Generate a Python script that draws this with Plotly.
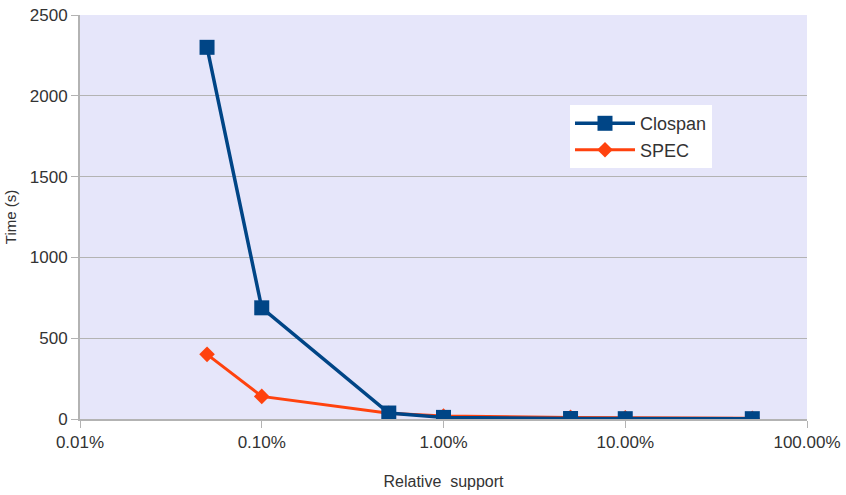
import plotly.graph_objects as go

support = [0.05, 0.1, 0.5, 1, 5, 10, 50]
clospan = [2300, 688, 37, 10, 3, 2, 2]
spec = [400, 140, 35, 18, 10, 8, 5]
tick_vals = [0.01, 0.1, 1, 10, 100]
tick_text = ["0.01%", "0.10%", "1.00%", "10.00%", "100.00%"]

fig = go.Figure()
fig.add_trace(go.Scatter(x=support, y=spec, name="SPEC", mode="lines+markers",
                         line=dict(color="#ff420e", width=3),
                         marker=dict(symbol="diamond", size=12, color="#ff420e")))
fig.add_trace(go.Scatter(x=support, y=clospan, name="Clospan", mode="lines+markers",
                         line=dict(color="#004586", width=3.5),
                         marker=dict(symbol="square", size=15, color="#004586")))

fig.update_layout(
    width=846, height=495,
    margin=dict(l=80, r=39, t=15, b=76),
    paper_bgcolor="white", plot_bgcolor="#e6e6fa",
    font=dict(family="Liberation Sans, Arial, sans-serif", size=17, color="#333333"),
    showlegend=True,
    legend=dict(x=0.674, y=0.777, xanchor="left", yanchor="top", bgcolor="white",
                traceorder="reversed", font=dict(size=18, color="#333333"),
                borderwidth=0, itemwidth=60, tracegroupgap=0),
    xaxis=dict(type="log", range=[-2, 2], tickvals=tick_vals, ticktext=tick_text,
               showgrid=False, showline=True, linecolor="#b3b3b3", linewidth=2,
               ticks="outside", ticklen=7, tickcolor="#b3b3b3", automargin=False,
               title=dict(text="Relative  support", font=dict(size=16), standoff=24),
               zeroline=False),
    yaxis=dict(range=[0, 2500], dtick=500, showgrid=True, gridcolor="#b3b3b3", gridwidth=1,
               showline=True, linecolor="#b3b3b3", linewidth=2,
               ticks="outside", ticklen=7, tickcolor="#b3b3b3", automargin=False,
               title=dict(text="Time (s)", font=dict(size=15), standoff=10),
               zeroline=False),
)
fig.write_html("out.html")
